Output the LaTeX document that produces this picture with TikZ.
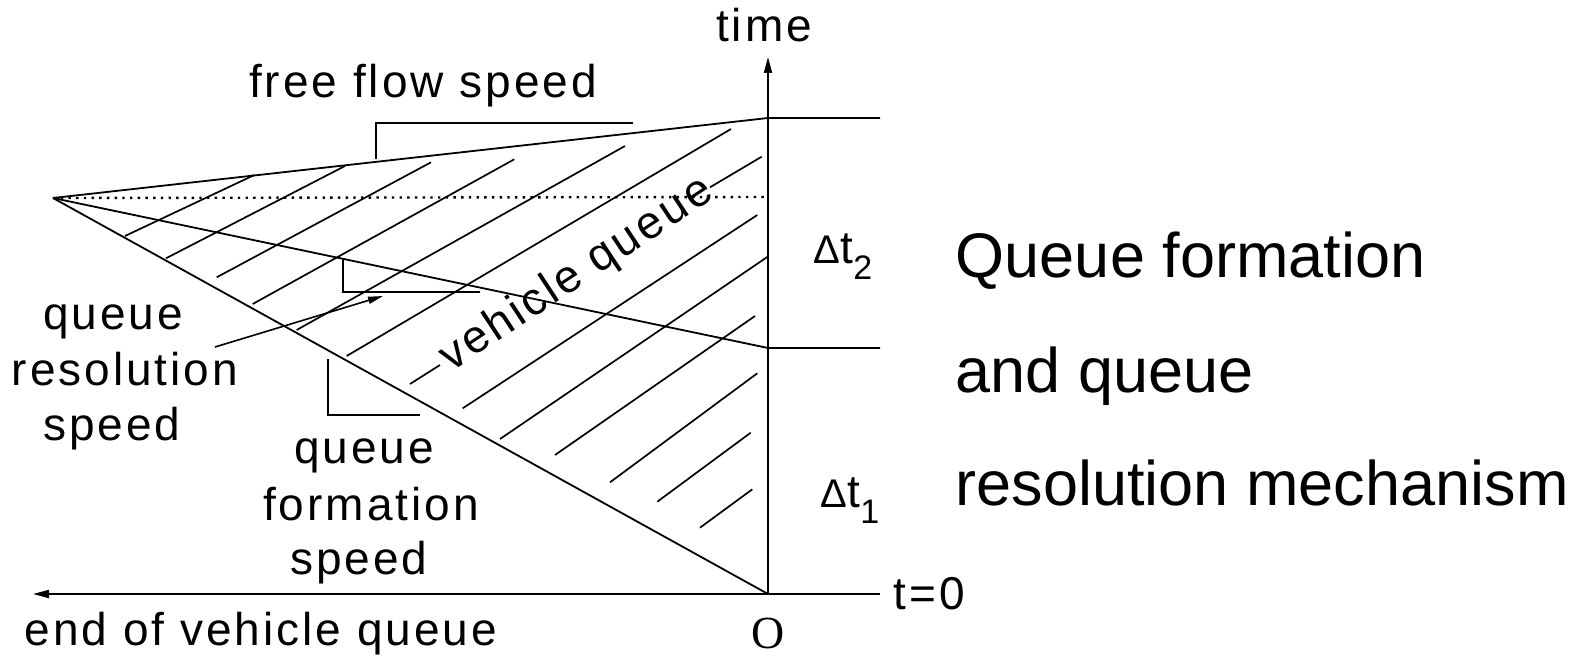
\documentclass[tikz,border=0pt]{standalone}
\usepackage{fontspec}
\setmainfont{Liberation Sans}
\newfontfamily\lblfont[LetterSpace=6.5]{Liberation Sans}
\newfontfamily\seriffont{Liberation Serif}
\usetikzlibrary{arrows.meta}
\begin{document}
\begin{tikzpicture}[x=1pt,y=-1pt,line width=1.8pt,
  lbl/.style={inner sep=0pt,anchor=base,font=\lblfont\fontsize{46}{55}\selectfont},
  big/.style={inner sep=0pt,anchor=base west,font=\fontsize{63}{75}\selectfont},
  hatch/.style={line width=1.7pt},
  bracket/.style={line width=1.6pt},
  dots/.style={line width=2.4pt,dash pattern=on 2.4pt off 5.3pt},
  axistip/.style={-{Triangle[length=16pt,width=8pt]}},
  smalltip/.style={-{Triangle[length=15pt,width=7pt]}}]
\useasboundingbox (0,0) rectangle (1583,658);
% key points
\coordinate (A) at (53,198);
\coordinate (T) at (768,118);
\coordinate (R) at (768,348);
\coordinate (O) at (768,594);
\coordinate (D) at (768,197);
\coordinate (Ttop) at (768,57);
\coordinate (Tr) at (880,118);
\coordinate (Rr) at (880,348);
\coordinate (Or) at (880,594);
\coordinate (Ol) at (33,594);
% main lines
\draw (A) -- (T) -- (Tr);
\draw (A) -- (R) -- (Rr);
\draw (A) -- (O);
\draw[dots] (A) -- (D);
\draw[axistip] (O) -- (Ttop);
\draw[axistip] (Or) -- (Ol);
% hatching
\draw[hatch] (125,236) -- (254.3,175);
\draw[hatch] (166,258.3) -- (345,166);
\draw[hatch] (216.7,277.3) -- (431,162.3);
\draw[hatch] (252.7,304) -- (514.3,159.3);
\draw[hatch] (296.7,330) -- (625,146);
\draw[hatch] (346.7,356) -- (731,129);
\draw[hatch] (410,384) -- (440,365);
\draw[hatch] (710,187.3) -- (761.7,156.7);
\draw[hatch] (462.7,408.3) -- (757.3,215);
\draw[hatch] (500,439) -- (767.7,256.7);
\draw[hatch] (555,455) -- (755,316);
\draw[hatch] (610,482.3) -- (757.3,373.3);
\draw[hatch] (657.3,501.7) -- (750.7,432.7);
\draw[hatch] (700,527.7) -- (752.3,489.3);
% brackets
\draw[bracket] (376,159) -- (376,123) -- (633,123);
\draw[bracket] (343,260) -- (343,292) -- (480,292);
\draw[bracket] (328,359) -- (328,415) -- (420,415);
% labels
\node[lbl] (time) at (764,42) {time};
\node[lbl] (ffs) at (423,97.7) {free flow speed};
\node[lbl] (qr1) at (113,329) {queue};
\node[lbl] (qr2) at (125,385) {resolution};
\node[lbl] (qr3) at (112,440) {speed};
\node[lbl] (qf1) at (364,463.5) {queue};
\node[lbl] (qf2) at (371,520) {formation};
\node[lbl] (qf3) at (359,574) {speed};
\node[lbl] (eq) at (261,645) {end of vehicle queue};
\node[lbl,anchor=base west] (t0) at (893,609) {t=0};
\node[inner sep=0pt,anchor=base,font=\seriffont\fontsize{46}{52}\selectfont] (o) at (768.5,648) {O};
\node[lbl,anchor=center,rotate=33.4] (vq) at (577,275) {vehicle queue};
\node[inner sep=0pt,anchor=base west] (dt2) at (813,263) {\fontsize{40}{46}\selectfont Δ\fontsize{46}{52}\selectfont t\raisebox{-16pt}{\fontsize{34}{38}\selectfont 2}};
\node[inner sep=0pt,anchor=base west] (dt1) at (820,507) {\fontsize{40}{46}\selectfont Δ\fontsize{46}{52}\selectfont t\raisebox{-16pt}{\fontsize{34}{38}\selectfont 1}};
\node[big] (r1) at (955,277) {Queue formation};
\node[big] (r2) at (955,392) {and queue};
\node[big] (r3) at (955,505) {resolution mechanism};
% arrow from resolution label
\coordinate (arrS) at (215,347);
\coordinate (arrE) at (383,296);
\draw[smalltip,line width=1.6pt] (arrS) -- (arrE);
\end{tikzpicture}
\end{document}
